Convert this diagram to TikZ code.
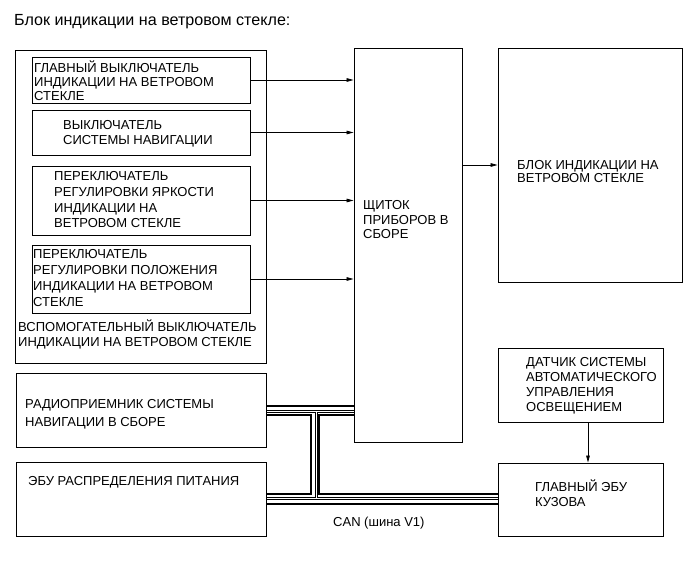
\documentclass[tikz,border=0pt]{standalone}
\usepackage{fontspec}
\setmainfont{Liberation Sans}
\usetikzlibrary{arrows.meta}
\begin{document}
\begin{tikzpicture}[x=1pt,y=-1pt,
  box/.style={draw,line width=0.9pt,inner sep=0,rectangle},
  txt/.style={inner sep=0,align=left,anchor=base west,font=\fontsize{13}{#1}\selectfont},
  txt/.default=15,
  arr/.style={line width=0.8pt,-{Triangle[length=7pt,width=3.6pt]}},
  thick bus/.style={line width=2pt},
  thin bus/.style={line width=0.7pt}]
\useasboundingbox (0,0) rectangle (691,564);
\fill[white] (0,0) rectangle (691,564);
% title
\node[inner sep=0,anchor=base west,font=\fontsize{16.1}{18}\selectfont] (title) at (14,25.5) {Блок индикации на ветровом стекле:};
% boxes
\node[box,minimum width=251pt,minimum height=313pt] (aux) at (140.5,206.5) {};
\node[box,minimum width=218pt,minimum height=46pt] (b1) at (141,80) {};
\node[box,minimum width=218pt,minimum height=45pt] (b2) at (141,132.5) {};
\node[box,minimum width=218pt,minimum height=69pt] (b3) at (141,200.5) {};
\node[box,minimum width=218pt,minimum height=68pt] (b4) at (141,279) {};
\node[box,minimum width=108pt,minimum height=394pt] (cl) at (408,245) {};
\node[box,minimum width=184pt,minimum height=234pt] (hud) at (590,165) {};
\node[box,minimum width=165pt,minimum height=74pt] (sens) at (580.5,385) {};
\node[box,minimum width=165pt,minimum height=73pt] (body) at (580.5,499.5) {};
\node[box,minimum width=250pt,minimum height=74pt] (radio) at (141,410) {};
\node[box,minimum width=250pt,minimum height=74pt] (power) at (141,499) {};
% texts (anchor = baseline of the last line)
\node[txt=14] (t1) at (34,101) {ГЛАВНЫЙ ВЫКЛЮЧАТЕЛЬ\\ИНДИКАЦИИ НА ВЕТРОВОМ\\СТЕКЛЕ};
\node[txt=15] (t2) at (63,145) {ВЫКЛЮЧАТЕЛЬ\\СИСТЕМЫ НАВИГАЦИИ};
\node[txt=15.7] (t3) at (54,228) {ПЕРЕКЛЮЧАТЕЛЬ\\РЕГУЛИРОВКИ ЯРКОСТИ\\ИНДИКАЦИИ НА\\ВЕТРОВОМ СТЕКЛЕ};
\node[txt=16] (t4) at (33,306.5) {ПЕРЕКЛЮЧАТЕЛЬ\\РЕГУЛИРОВКИ ПОЛОЖЕНИЯ\\ИНДИКАЦИИ НА ВЕТРОВОМ\\СТЕКЛЕ};
\node[txt=15.3] (taux) at (18,346.5) {ВСПОМОГАТЕЛЬНЫЙ ВЫКЛЮЧАТЕЛЬ\\ИНДИКАЦИИ НА ВЕТРОВОМ СТЕКЛЕ};
\node[txt=14.5] (tcl) at (363,239) {ЩИТОК\\ПРИБОРОВ В\\СБОРЕ};
\node[txt=13.5] (thud) at (517,183) {БЛОК ИНДИКАЦИИ НА\\ВЕТРОВОМ СТЕКЛЕ};
\node[txt=15] (tsens) at (526,411) {ДАТЧИК СИСТЕМЫ\\АВТОМАТИЧЕСКОГО\\УПРАВЛЕНИЯ\\ОСВЕЩЕНИЕМ};
\node[txt=15] (tbody) at (535,506.5) {ГЛАВНЫЙ ЭБУ\\КУЗОВА};
\node[txt=17.7] (tradio) at (25,426.5) {РАДИОПРИЕМНИК СИСТЕМЫ\\НАВИГАЦИИ В СБОРЕ};
\node[txt] (tpower) at (28,485) {ЭБУ РАСПРЕДЕЛЕНИЯ ПИТАНИЯ};
\node[txt] (tcan) at (333,526) {CAN (шина V1)};
% arrows
\draw[arr] (b1.east) -- (b1.east -| cl.west);
\draw[arr] (b2.east) -- (b2.east -| cl.west);
\draw[arr] (b3.east) -- (b3.east -| cl.west);
\draw[arr] (b4.east) -- (b4.east -| cl.west);
\draw[arr] (hud.west -| cl.east) -- (hud.west);
\coordinate (sx) at ([xshift=7.5pt]sens.south);
\draw[arr] (sx) -- (sx |- body.north);
% CAN bus
\draw[thick bus] (radio.east |- 0,406) -- (cl.west |- 0,406);
\draw[thick bus] (radio.east |- 0,415) -| (311,494) -- (power.east |- 0,494);
\draw[thick bus] (cl.west |- 0,415) -| (319,494) -- (body.west |- 0,494);
\draw[thick bus] (power.east |- 0,504) -- (body.west |- 0,504);
\draw[thin bus] (radio.east |- 0,410.5) -- (cl.west |- 0,410.5);
\draw[thin bus] (radio.east |- 0,412.5) -- (315,412.5) -- (315,497) -- (power.east |- 0,497);
\draw[thin bus] (cl.west |- 0,412.5) -- (317,412.5) -- (317,497) -- (body.west |- 0,497);
\draw[thin bus] (power.east |- 0,499) -- (body.west |- 0,499);
\end{tikzpicture}
\end{document}
